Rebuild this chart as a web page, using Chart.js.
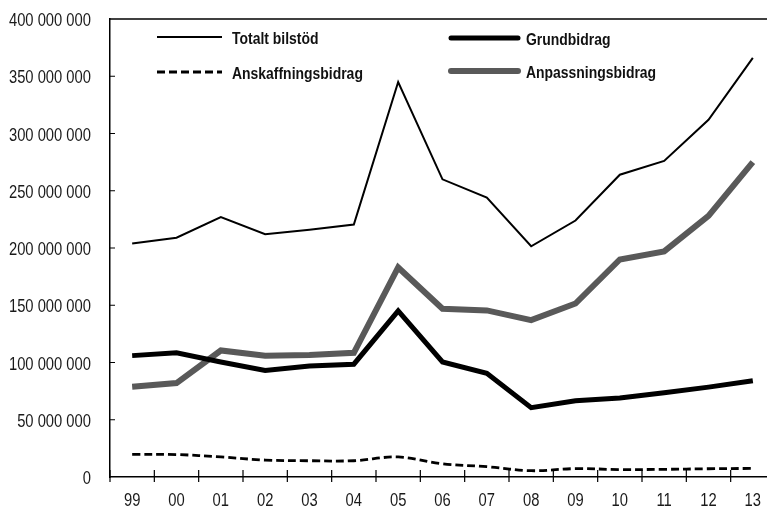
<!DOCTYPE html>
<html>
<head>
<meta charset="utf-8">
<script src="https://cdn.jsdelivr.net/npm/chart.js@4"></script>
<style>
  html, body { margin: 0; padding: 0; background: #fff; overflow: hidden; }
  #wrap { width: 775px; height: 507px; }
</style>
</head>
<body>
<div id="wrap"><canvas id="bilChart"></canvas></div>
<script>
const years = ["99","00","01","02","03","04","05","06","07","08","09","10","11","12","13"];

// miljoner kr
const totalt      = [204, 209, 227, 212, 216, 220.5, 345, 260, 244, 201.5, 224, 264, 276, 312, 366];
const grundbidrag = [106, 108.5, 100.5, 93, 97, 98.5, 145, 100.5, 90.5, 60.5, 66.5, 69, 73.5, 78.5, 84];
const anskaffning = [19.8, 19.6, 17.5, 14.8, 14.2, 14.2, 17.5, 11.5, 9, 5.5, 7.3, 6.5, 6.7, 7.2, 7.5];
const anpassning  = [78.8, 82, 110.5, 106, 106.5, 108.5, 183, 147, 145.5, 137, 151.5, 190, 197, 228, 275];

const yTicks = [0, 50, 100, 150, 200, 250, 300, 350, 400];

const M = 1000000;
const toKr = arr => arr.map(v => v * M);

function spaced(v){
  return String(v).replace(/\B(?=(\d{3})+(?!\d))/g, " ");
}

// ingen smal font installerad -> Liberation Sans hoptryckt i x-led
const FONT = "'Liberation Sans', Arial, sans-serif";
const NARROW = 0.82;

function narrowText(ctx, text, x, y, align, font){
  ctx.save();
  ctx.font = font;
  ctx.textAlign = align;
  ctx.textBaseline = "alphabetic";
  ctx.translate(x, y);
  ctx.scale(NARROW, 1);
  ctx.fillText(text, 0, 0);
  ctx.restore();
}

// ram, tickmarks och axeltexter
const framePlugin = {
  id: "frame",
  afterDraw(chart){
    const ctx = chart.ctx;
    const a = chart.chartArea;
    const x = chart.scales.x, y = chart.scales.y;
    ctx.save();
    ctx.strokeStyle = "#000";
    ctx.lineWidth = 1.5;
    ctx.beginPath();
    ctx.moveTo(a.left, a.top);
    ctx.lineTo(a.right, a.top);
    ctx.stroke();

    ctx.lineWidth = 1.2;
    ctx.beginPath();
    yTicks.forEach(t => {
      if (t === 0 || t === yTicks[yTicks.length-1]) return;
      const py = y.getPixelForValue(t * M);
      ctx.moveTo(a.left, py);
      ctx.lineTo(a.left + 5, py);
    });
    for (let i = 0; i <= years.length; i++){
      const px = x.getPixelForValue(i - 0.5);
      ctx.moveTo(px, a.bottom - 7);
      ctx.lineTo(px, a.bottom + 5);
    }
    ctx.stroke();

    ctx.fillStyle = "#1a1a1a";
    yTicks.forEach(t => {
      const py = y.getPixelForValue(t * M);
      narrowText(ctx, spaced(t * M), a.left - 19, py + 7, "right", "18px " + FONT);
    });
    years.forEach((lab, i) => {
      narrowText(ctx, lab, x.getPixelForValue(i), a.bottom + 29, "center", "18px " + FONT);
    });
    ctx.restore();
  }
};

// legend i två kolumner inne i diagrammet
const legendPos = [
  { x: 157, y: 37, len: 65 },
  { x: 451, y: 38, len: 67 },
  { x: 157, y: 72, len: 65 },
  { x: 451, y: 71, len: 67 }
];

const legendPlugin = {
  id: "innerLegend",
  afterDraw(chart){
    const ctx = chart.ctx;
    ctx.save();
    chart.data.datasets.forEach((ds, i) => {
      const p = legendPos[i];
      ctx.strokeStyle = ds.borderColor;
      ctx.lineWidth = ds.borderWidth;
      ctx.setLineDash(ds.borderDash || []);
      ctx.lineCap = ds.borderWidth >= 4 ? "round" : "butt";
      ctx.beginPath();
      ctx.moveTo(p.x, p.y);
      ctx.lineTo(p.x + p.len, p.y);
      ctx.stroke();
      ctx.setLineDash([]);
      ctx.fillStyle = "#111";
      const tx = p.x + p.len + (ds.borderWidth >= 4 ? 8 : 10);
      narrowText(ctx, ds.label, tx, p.y + 6.5, "left", "bold 17px " + FONT);
    });
    ctx.restore();
  }
};

new Chart(document.getElementById("bilChart"), {
  type: "line",
  data: {
    labels: years,
    datasets: [
      {
        label: "Totalt bilstöd",
        data: toKr(totalt),
        borderColor: "#000",
        borderWidth: 2,
        tension: 0,
        order: 3
      },
      {
        label: "Grundbidrag",
        data: toKr(grundbidrag),
        borderColor: "#000",
        borderWidth: 5,
        tension: 0,
        order: 1
      },
      {
        label: "Anskaffningsbidrag",
        data: toKr(anskaffning),
        borderColor: "#000",
        borderWidth: 2.8,
        borderDash: [8, 4],
        tension: 0.35,
        order: 4
      },
      {
        label: "Anpassningsbidrag",
        data: toKr(anpassning),
        borderColor: "#595959",
        borderWidth: 6,
        tension: 0,
        order: 2
      }
    ]
  },
  options: {
    responsive: true,
    maintainAspectRatio: false,
    animation: false,
    elements: { point: { radius: 0, hoverRadius: 0 } },
    layout: { padding: { top: 19, left: 0, right: 0, bottom: 0 } },
    plugins: {
      legend: { display: false },
      tooltip: { enabled: false }
    },
    scales: {
      x: {
        type: "category",
        offset: true,
        grid: { display: false, drawTicks: false },
        border: { display: true, color: "#000", width: 1.5 },
        ticks: { display: false, autoSkip: false },
        afterFit(scale){ scale.height = 30; }
      },
      y: {
        min: 0,
        max: yTicks[yTicks.length-1] * M,
        grid: { display: false, drawTicks: false },
        border: { display: true, color: "#000", width: 1.5 },
        ticks: { display: false, stepSize: 50 * M },
        afterFit(scale){ scale.width = 110; }
      }
    }
  },
  plugins: [framePlugin, legendPlugin]
});
</script>
</body>
</html>
